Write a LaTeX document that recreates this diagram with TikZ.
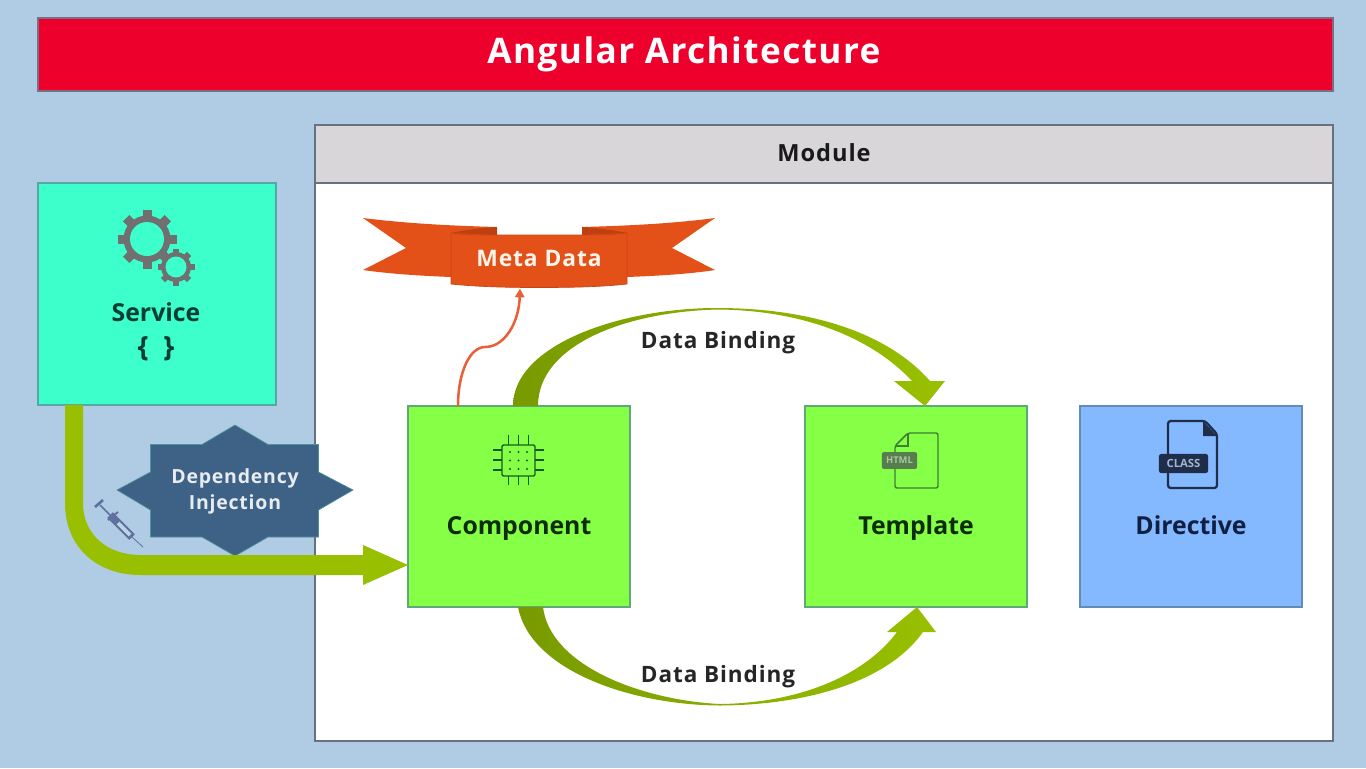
\documentclass[tikz,border=0pt]{standalone}
\usepackage{fontspec}
\setmainfont{Open Sans}
\newfontfamily\spaced[LetterSpace=4]{Open Sans}
\usetikzlibrary{calc,arrows.meta}
\definecolor{bgblue}{HTML}{B0CBE4}
\definecolor{titlered}{HTML}{EE002C}
\definecolor{titleedge}{HTML}{7C6E82}
\definecolor{modgray}{HTML}{D8D6D9}
\definecolor{modedge}{HTML}{68727E}
\definecolor{svcfill}{HTML}{3DFFCB}
\definecolor{svcedge}{HTML}{55A9A4}
\definecolor{cmpfill}{HTML}{86FF47}
\definecolor{cmpedge}{HTML}{5FA87A}
\definecolor{dirfill}{HTML}{85B9FF}
\definecolor{diredge}{HTML}{5F8DB5}
\definecolor{arrowg}{HTML}{99C000}
\definecolor{arrowd}{HTML}{789A00}
\definecolor{starblue}{HTML}{3D6286}
\definecolor{bannerc}{HTML}{E45118}
\definecolor{bannerd}{HTML}{BE3F10}
\definecolor{orangel}{HTML}{E8603A}
\definecolor{gearc}{HTML}{707070}
\definecolor{syr}{HTML}{5F719C}
\definecolor{svctext}{HTML}{033D33}
\definecolor{cmptext}{HTML}{0B2C05}
\definecolor{dirtext}{HTML}{101F42}
\definecolor{chipc}{HTML}{165A1F}
\definecolor{htmlc}{HTML}{3F7F35}
\definecolor{htmlbadgec}{HTML}{587D4E}
\definecolor{htmltxt}{HTML}{A8C8A0}
\definecolor{classc}{HTML}{1D2D4A}
\definecolor{classtxt}{HTML}{A4B4CC}
\tikzset{
  boxbase/.style={draw,line width=0.9pt,anchor=north west,inner sep=0,outer sep=0},
  greenbox/.style={boxbase,fill=cmpfill,draw=cmpedge,minimum width=166.5pt,minimum height=150.75pt},
  bluebox/.style={boxbase,fill=dirfill,draw=diredge,minimum width=166.5pt,minimum height=150.75pt},
  lab/.style={font=\bfseries\fontsize{18.6}{20}\selectfont,inner sep=0},
  bind/.style={font=\bfseries\spaced\fontsize{16.9}{18}\selectfont,text=black!85,inner sep=0},
  chipline/.style={draw=chipc,line width=1pt},
  curvedarrow/.style={left color=arrowd,right color=arrowg,draw=none},
  gear/.style={fill=gearc}
}
\begin{document}
\begin{tikzpicture}[x=0.75pt,y=-0.75pt]
\useasboundingbox (0,0) rectangle (1366,768);
\fill[bgblue] (0,0) rectangle (1366,768);

% title
\node[boxbase,fill=titlered,draw=titleedge,line width=1.5pt,minimum width=971pt,minimum height=54.5pt] (title) at (38,18) {};
\node[font=\bfseries\spaced\fontsize{26.4}{30}\selectfont,text=white,inner sep=0] (titletext) at (684,54) {Angular Architecture};

% module
\node[boxbase,fill=white,draw=modedge,line width=1.1pt,minimum width=763.5pt,minimum height=462pt] (module) at (315,125) {};
\node[boxbase,fill=modgray,draw=modedge,line width=1.1pt,minimum width=763.5pt,minimum height=43.5pt] (modhead) at (315,125) {};
\node[font=\bfseries\spaced\fontsize{17.7}{20}\selectfont,text=black!90,inner sep=0] (modtext) at (824,153) {Module};

% service
\node[boxbase,fill=svcfill,draw=svcedge,minimum width=178.5pt,minimum height=166.5pt] (service) at (38,183) {};
\node[lab,text=svctext] (servicetext) at (156,312) {Service};
\node[lab,text=svctext,font=\bfseries\fontsize{21}{24}\selectfont] (servicebr) at (156,349) {\{\ \ \}};

% gears
\foreach \a in {0,45,...,315}{
  \fill[gear,rotate around={\a:(147,239)}] (142.5,209.5) rectangle (151.5,225);
}
\fill[gear] (147,239) circle[radius=23.5];
\fill[svcfill] (147,239) circle[radius=17];
\foreach \a in {0,45,...,315}{
  \fill[gear,rotate around={\a:(176,267)}] (173,248.5) rectangle (179,258);
}
\fill[gear] (176,267) circle[radius=15];
\fill[svcfill] (176,267) circle[radius=10.5];

% star
\node[inner sep=0,outer sep=0] (starc) at (235,490) {};
\filldraw[fill=starblue,draw=svcedge!70!starblue,line width=0.5pt]
 (235,425) -- (268,444.5) -- (318.5,444.5) -- (318.5,472) -- (353,490) -- (318.5,510) -- (318.5,537) -- (268,537) -- (235,556)
 -- (202,537) -- (150.5,537) -- (150.5,510) -- (117,490) -- (150.5,472) -- (150.5,444.5) -- (202,444.5) -- cycle;
\node[font=\bfseries\spaced\fontsize{14.6}{16}\selectfont,text=white!88!starblue,inner sep=0] (dep1) at (235,478) {Dependency};
\node[font=\bfseries\spaced\fontsize{14.6}{16}\selectfont,text=white!88!starblue,inner sep=0] (dep2) at (235,504) {Injection};

% boxes
\node[greenbox] (comp) at (408,406) {};
\node[greenbox] (templ) at (805,406) {};
\node[bluebox] (direc) at (1080,406) {};
\node[lab,text=cmptext] (comptext) at (519,528) {Component};
\node[lab,text=cmptext] (templtext) at (916,528) {Template};
\node[lab,text=dirtext] (directext) at (1191,525) {Directive};

% connector coordinates
\coordinate (svcA) at ($(service.south west)+(27,0)$);
\coordinate (svcB) at ($(service.south west)+(45,0)$);
\coordinate (compW) at ($(comp.north west)+(0,159)$);
\coordinate (topA) at ($(comp.north west)+(105,0)$);
\coordinate (topB) at ($(comp.north west)+(130,0)$);
\coordinate (topTip) at ($(templ.north west)+(120,0)$);
\coordinate (botA) at ($(comp.south west)+(110,0)$);
\coordinate (botB) at ($(comp.south west)+(135,0)$);
\coordinate (botTip) at ($(templ.south west)+(112,0)$);
\coordinate (metaOut) at ($(comp.north west)+(50,0)$);

% service to component arrow
\fill[arrowg] (svcA) -- (65,503) .. controls (65,548) and (98,575) .. (140,575) -- (363,575) -- (363,585) -- (compW) -- (363,545) -- (363,555) -- (140,555)
  .. controls (108,555) and (83,535) .. (83,503) -- (svcB) -- cycle;

% syringe
\draw[syr,line width=1.2pt] (100,505) -- (110,515);
\draw[syr,line width=2pt] (95,507) -- (103,500);
\draw[syr,line width=1.5pt] (108,520) -- (118,512);
\draw[syr,line width=6pt] (110,515) -- (132,537);
\draw[bgblue!85!white,line width=2.8pt] (118,523) -- (130,535);
\draw[syr,line width=0.6pt] (132,537) -- (143,547);

% data binding, top
\shade[curvedarrow] (topA) .. controls (513,345) and (620,308) .. (717,308)
  .. controls (805,308) and (885,330) .. (930,381) -- (945,381) -- (topTip) -- (894,381) -- (912,381)
  .. controls (870,336) and (800,310) .. (717,309.5) .. controls (625,312) and (538,345) .. (topB) -- cycle;
\node[bind] (bind1) at (718,343) {Data Binding};

% data binding, bottom
\shade[curvedarrow] (botA) .. controls (530,670) and (630,705) .. (720,705.5)
  .. controls (800,705) and (885,685) .. (923,632) -- (936,632) -- (botTip) -- (887,632) -- (897,632)
  .. controls (865,675) and (800,703) .. (720,704) .. controls (640,700) and (550,665) .. (botB) -- cycle;
\node[bind] (bind2) at (718,677) {Data Binding};

% banner
\fill[bannerc] (363,218) .. controls (410,224) and (460,226) .. (497,227) -- (582,227) .. controls (620,226) and (670,224) .. (715,218)
  -- (672,248) -- (715,270) .. controls (690,274) and (655,276) .. (627,277) -- (451,277) .. controls (425,276) and (390,274) .. (363,270) -- (406,248) -- cycle;
\fill[white] (497,220) rectangle (582,235);
\fill[bannerd] (451,233) .. controls (465,230) and (480,228) .. (497,227) -- (497,235) -- cycle;
\fill[bannerd] (627,233) .. controls (613,230) and (598,228) .. (582,227) -- (582,235) -- cycle;
\node[inner sep=0,outer sep=0] (metaanchor) at (520,288) {};
\filldraw[fill=bannerc,draw=bannerd!80!bannerc,line width=0.5pt] (451,233) .. controls (465,235) and (480,235) .. (497,235) -- (582,235) .. controls (598,235) and (613,235) .. (627,233)
  -- (627,284) .. controls (600,287) and (570,287.5) .. (539,287.5) .. controls (510,287.5) and (480,287) .. (451,284) -- cycle;
\node[font=\bfseries\spaced\fontsize{17.1}{20}\selectfont,text=white!92!orange,inner sep=0] (metatext) at (539,258) {Meta Data};

% metadata link
\draw[orangel,line width=1.9pt,-{Triangle[length=6.5pt,width=7pt]}] (metaOut) .. controls (458,372) and (470,347) .. (485,347)
  .. controls (505,347) and (519,322) .. (metaanchor);

% chip icon
\draw[chipline,rounded corners=1pt] (502,445) rectangle (535,476);
\foreach \x in {508.5,518.5,528.5}{
  \draw[chipline] (\x,435) -- (\x,445);
  \draw[chipline] (\x,476) -- (\x,485);
}
\foreach \y in {450,460,470}{
  \draw[chipline] (493,\y) -- (502,\y);
  \draw[chipline] (535,\y) -- (544,\y);
}
\foreach \x in {510,518.5,527}{
  \foreach \y in {452,460.5,469}{
    \fill[chipc] (\x,\y) circle[radius=1.2];
  }
}

% html icon
\draw[draw=htmlc,line width=1.1pt,rounded corners=1.5pt,fill=cmpfill]
  (908,433) -- (938,433) -- (938,488) -- (895,488) -- (895,446) -- cycle;
\draw[draw=htmlc,line width=0.8pt] (908,433) -- (908,446) -- (895,446);
\node[fill=htmlbadgec,rounded corners=1.5pt,minimum width=26.5pt,minimum height=12.5pt,inner sep=0,text=htmltxt,font=\bfseries\fontsize{7}{8}\selectfont] (htmlbadge) at (899.5,460.5) {HTML};

% class icon
\draw[draw=classc,line width=1.7pt,rounded corners=2pt,fill=dirfill]
  (1205,421) -- (1168,421) -- (1168,488) -- (1217,488) -- (1217,434) -- cycle;
\fill[classc] (1203,421) -- (1217,436) -- (1203,436) -- cycle;
\node[fill=classc,rounded corners=2pt,minimum width=37pt,minimum height=14.5pt,inner sep=0,text=classtxt,font=\bfseries\fontsize{8.5}{10}\selectfont] (classbadge) at (1183.5,463.5) {CLASS};

\end{tikzpicture}
\end{document}
